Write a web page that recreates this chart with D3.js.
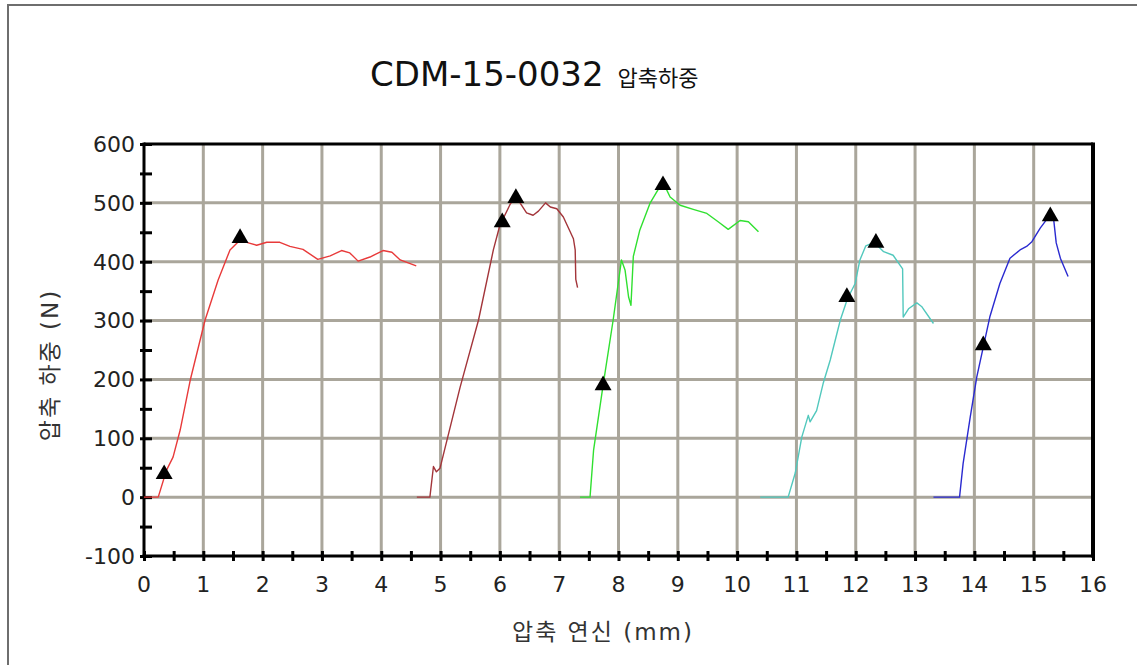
<!DOCTYPE html>
<html>
<head>
<meta charset="utf-8">
<script src="https://cdn.jsdelivr.net/npm/d3@7"></script>
<style>
    body { margin: 0; background: #fff; }
    svg { display: block; }
    .tick-label { font-family: "DejaVu Sans", Verdana, sans-serif; font-size: 22px; fill: #222; }
    .axis-title { font-family: "DejaVu Sans", "Noto Sans CJK KR", sans-serif; font-size: 23px; fill: #333; letter-spacing: 2px; }
</style>
</head>
<body>
<svg id="chart" width="1137" height="665"></svg>
<script>
// specimen curves, [elongation mm, load N]
const specimen1 = [[0,0],[0.24,0],[0.38,46],[0.49,68],[0.61,114],[0.78,199],[1.03,301],[1.25,369],[1.45,420],[1.62,437],
    [1.76,432],[1.90,428],[2.07,433],[2.29,433],[2.46,426],[2.68,421],[2.93,404],[3.14,410],[3.33,419],[3.47,415],
    [3.61,401],[3.81,408],[4.03,419],[4.18,416],[4.32,403],[4.59,393]]
const specimen2 = [[4.60,0],[4.82,0],[4.88,52],[4.93,43],[4.99,49],[5.33,187],[5.64,301],[5.89,420],[6.00,462],[6.18,499],
    [6.28,507],[6.34,500],[6.45,483],[6.56,479],[6.65,486],[6.77,500],[6.85,493],[6.96,490],[7.07,476],[7.24,439],
    [7.27,420],[7.28,370],[7.31,356]]
const specimen3 = [[7.35,0],[7.52,0],[7.58,80],[7.74,190],[7.91,301],[8.05,403],[8.11,386],[8.17,340],[8.21,326],[8.25,409],
    [8.36,454],[8.53,499],[8.70,528],[8.77,531],[8.87,510],[9.04,496],[9.26,489],[9.49,482],[9.68,468],[9.85,455],
    [10.05,470],[10.19,468],[10.36,451]]
const specimen4 = [[10.39,0],[10.86,0],[10.98,41],[11.09,102],[11.20,139],[11.23,128],[11.34,147],[11.45,193],[11.57,233],
    [11.74,301],[11.86,337],[11.99,363],[12.07,403],[12.17,427],[12.24,430],[12.34,430],[12.47,417],[12.63,411],
    [12.79,388],[12.80,306],[12.89,320],[13.03,330],[13.11,324],[13.31,295]]
const specimen5 = [[13.31,0],[13.75,0],[13.81,57],[13.93,136],[14.04,204],[14.15,255],[14.26,306],[14.43,363],[14.60,406],
    [14.77,420],[14.88,426],[14.97,434],[15.11,457],[15.22,472],[15.29,477],[15.34,469],[15.38,432],[15.45,406],[15.58,375]]

// triangle markers (yield / peak points)
const markers = [[0.34,39],[1.62,440],[6.04,467],[6.27,508],[7.74,190],[8.75,530],[11.85,340],[12.34,432],[14.15,258],[15.28,477]]

const curveColors = ["#e83a3a", "#a3353a", "#30e030", "#52c8bd", "#2a2ad0"]
const xTicks = d3.range(0, 17, 1)
const yTicks = d3.range(-100, 700, 100)

const titleMain = "CDM-15-0032"
const titleSub = "압축하중"
const xTitle = "압축 연신 (mm)"
const yTitle = "압축 하중 (N)"

function render_chart()
{
    let svg = d3.select("#chart")
    let box = {left: 144, top: 144, right: 1093, bottom: 556}

    // outer frame (only left/top show inside the picture)
    svg.append("path")
        .attr("d", "M8,665 L8,5 L1137,5")
        .attr("fill", "none")
        .attr("stroke", "#6e6e6e")
        .attr("stroke-width", 2)

    let x = d3.scaleLinear().domain([0, 16]).range([box.left, box.right])
    let y = d3.scaleLinear().domain([-100, 600]).range([box.bottom, box.top])

    // grid
    let grid = svg.append("g").attr("stroke", "#aaa69b").attr("stroke-width", 3)
    grid.selectAll("line.v")
        .data(xTicks.slice(1, -1))
        .enter().append("line")
            .attr("x1", d => x(d)).attr("x2", d => x(d))
            .attr("y1", box.top).attr("y2", box.bottom)
    grid.selectAll("line.h")
        .data(yTicks.slice(1, -1))
        .enter().append("line")
            .attr("x1", box.left).attr("x2", box.right)
            .attr("y1", d => y(d)).attr("y2", d => y(d))

    // frame of the plot area
    svg.append("line").attr("x1", box.left).attr("x2", box.right).attr("y1", box.top).attr("y2", box.top)
        .attr("stroke", "#000").attr("stroke-width", 3)
    svg.append("line").attr("x1", box.right).attr("x2", box.right).attr("y1", box.top - 1.5).attr("y2", box.bottom + 1.5)
        .attr("stroke", "#000").attr("stroke-width", 4)

    // axes, ticks every half step
    let xAxis = d3.axisBottom(x).tickValues(d3.range(0, 16.5, 0.5)).tickSize(10).tickFormat("")
    let gx = svg.append("g").attr("transform", `translate(0,${box.bottom - 5})`).call(xAxis)
    gx.select(".domain").remove()
    gx.selectAll(".tick line").attr("stroke", "#000").attr("stroke-width", 3)
    svg.append("line").attr("x1", box.left - 1.5).attr("x2", box.right).attr("y1", box.bottom).attr("y2", box.bottom)
        .attr("stroke", "#000").attr("stroke-width", 3)

    let yAxis = d3.axisLeft(y).tickValues(d3.range(-100, 650, 50)).tickSize(12).tickFormat("")
    let gy = svg.append("g").attr("transform", `translate(${box.left + 8},0)`).call(yAxis)
    gy.select(".domain").remove()
    gy.selectAll(".tick line").attr("stroke", "#000").attr("stroke-width", 3)
    svg.append("line").attr("x1", box.left).attr("x2", box.left).attr("y1", box.top - 1.5).attr("y2", box.bottom + 1.5)
        .attr("stroke", "#000").attr("stroke-width", 3)

    svg.selectAll("text.xl")
        .data(xTicks)
        .enter().append("text")
            .attr("class", "tick-label")
            .attr("x", d => x(d))
            .attr("y", box.bottom + 36)
            .attr("text-anchor", "middle")
            .text(d => d)
    svg.selectAll("text.yl")
        .data(yTicks)
        .enter().append("text")
            .attr("class", "tick-label")
            .attr("x", box.left - 9)
            .attr("y", d => y(d))
            .attr("dy", "0.36em")
            .attr("text-anchor", "end")
            .text(d => d)

    // curves
    let line = d3.line().x(d => x(d[0])).y(d => y(d[1]))
    let curves = [specimen1, specimen2, specimen3, specimen4, specimen5]
    svg.selectAll("path.curve")
        .data(curves)
        .enter().append("path")
            .attr("d", line)
            .attr("fill", "none")
            .attr("stroke", (d, i) => curveColors[i])
            .attr("stroke-width", 1.4)
            .attr("stroke-linejoin", "round")

    svg.selectAll("path.marker")
        .data(markers)
        .enter().append("path")
            .attr("d", d3.symbol(d3.symbolTriangle, 125))
            .attr("transform", d => `translate(${x(d[0])},${y(d[1])})`)
            .attr("fill", "#000")

    // titles
    let title = svg.append("text")
        .attr("x", 370).attr("y", 86)
        .attr("font-family", "'DejaVu Sans', 'Noto Sans CJK KR', sans-serif")
        .attr("fill", "#111")
    title.append("tspan").attr("font-size", 34).text(titleMain)
    title.append("tspan").attr("font-size", 22).attr("dx", 14).text(titleSub)

    svg.append("text")
        .attr("class", "axis-title")
        .attr("x", 603).attr("y", 640)
        .attr("text-anchor", "middle")
        .text(xTitle)

    svg.append("text")
        .attr("class", "axis-title")
        .attr("transform", "translate(58,365) rotate(-90)")
        .attr("text-anchor", "middle")
        .text(yTitle)
}

render_chart()
</script>
</body>
</html>
